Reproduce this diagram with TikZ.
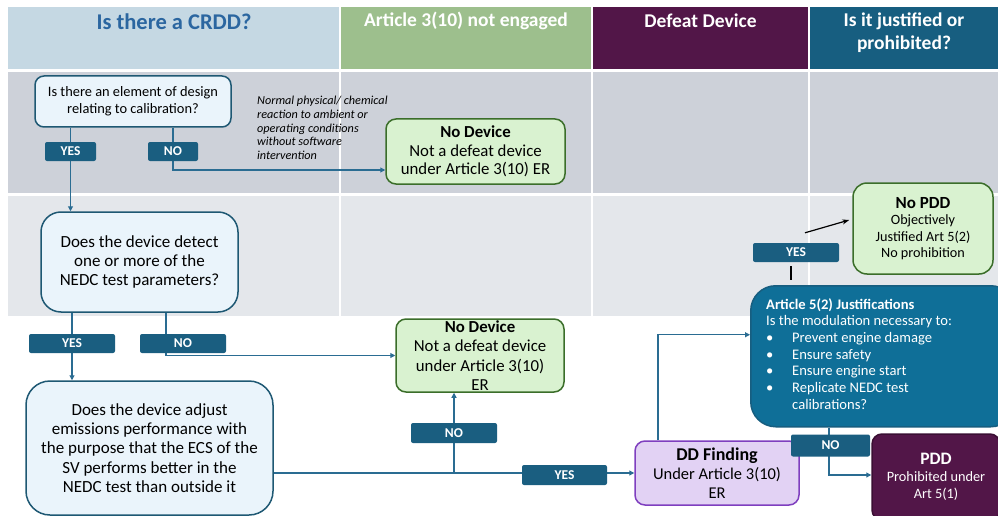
\documentclass[tikz,border=0pt]{standalone}
\usepackage{fontspec}
\setmainfont{Carlito}
\usetikzlibrary{arrows.meta,calc}

\definecolor{hdA}{HTML}{C5D8E3}
\definecolor{hdAtxt}{HTML}{2B66A0}
\definecolor{hdB}{HTML}{9DBF8D}
\definecolor{hdC}{HTML}{521648}
\definecolor{hdD}{HTML}{175E80}
\definecolor{rowA}{HTML}{CDD1D9}
\definecolor{rowB}{HTML}{E4E7EB}
\definecolor{qfill}{HTML}{EAF4FB}
\definecolor{qline}{HTML}{1E5873}
\definecolor{gfill}{HTML}{D9F2D0}
\definecolor{gline}{HTML}{3B6E2A}
\definecolor{pfill}{HTML}{E2D2F4}
\definecolor{pline}{HTML}{7F3FBF}
\definecolor{artfill}{HTML}{0F6F98}
\definecolor{artline}{HTML}{175E80}
\definecolor{lblfill}{HTML}{1A5E80}
\definecolor{connc}{HTML}{2A6C92}
\definecolor{pddline}{HTML}{3A0F33}

\pgfdeclarelayer{bg}
\pgfdeclarelayer{conn}
\pgfsetlayers{bg,conn,main}

\tikzset{
  qbox/.style={draw=qline, fill=qfill, line width=1.5pt, align=center, inner sep=2pt},
  gbox/.style={draw=gline, fill=gfill, line width=1.5pt, align=center, inner sep=2pt, rounded corners=10pt},
  lbl/.style={fill=lblfill, text=white, rounded corners=2pt, inner sep=0pt,
    font=\bfseries\fontsize{13.5}{13.5}\selectfont},
  conn/.style={draw=connc, line width=1.1pt, -{Triangle[length=5pt,width=5pt]}},
  blk/.style={draw=black, line width=1.2pt},
  hdtxt/.style={text=white, font=\bfseries\fontsize{19.5}{23}\selectfont, align=center, inner sep=0pt}
}

\begin{document}
\begin{tikzpicture}[x=1pt,y=-1pt]
\useasboundingbox (0,0) rectangle (998,516);

% lane backgrounds
\begin{pgfonlayer}{bg}
\fill[white] (0,0) rectangle (998,516);
\fill[hdA] (8,7) rectangle (339,69);
\fill[hdB] (341,7) rectangle (591,69);
\fill[hdC] (593,7) rectangle (808,69);
\fill[hdD] (810,7) rectangle (998,69);
\fill[rowA] (8,72) rectangle (998,193);
\fill[rowB] (8,196) rectangle (998,316);
\foreach \xx in {340,592,809}{\draw[white, line width=1.5pt] (\xx,72) -- (\xx,316);}
\end{pgfonlayer}

% column headings
\node[hdtxt, text=hdAtxt, font=\bfseries\fontsize{22.5}{25}\selectfont] (h1) at (174,22) {Is there a CRDD?};
\node[hdtxt] (h2) at (466,21) {Article 3(10) not engaged};
\node[hdtxt] (h3) at (700.5,21) {Defeat Device};
\node[hdtxt] (h4) at (904,32.5) {Is it justified or\\prohibited?};

% decision boxes
\node[qbox, rounded corners=9pt, minimum width=196pt, minimum height=51pt,
  font=\fontsize{14.4}{17}\selectfont] (q1) at (133,101.5)
  {Is there an element of design\\relating to calibration?};
\node[qbox, rounded corners=20pt, minimum width=197pt, minimum height=100pt,
  font=\fontsize{17}{19.4}\selectfont] (q2) at (139.5,262)
  {Does the device detect\\one or more of the\\NEDC test parameters?};
\node[qbox, rounded corners=24pt, minimum width=247pt, minimum height=134pt,
  font=\fontsize{17}{19.4}\selectfont] (q3) at (149.5,448)
  {Does the device adjust\\emissions performance with\\the purpose that the ECS of the\\SV performs better in the\\NEDC test than outside it};

% outcome boxes
\node[gbox, minimum width=179pt, minimum height=65pt,
  font=\fontsize{16.8}{18.5}\selectfont] (nd1) at (475.5,151.5)
  {\textbf{No Device}\\Not a defeat device\\under Article 3(10) ER};
\node[gbox, minimum width=168pt, minimum height=73pt, inner sep=0pt,
  font=\fontsize{16.8}{19.5}\selectfont] (nd2) at (480,355.5)
  {\textbf{No Device}\\Not a defeat device\\under Article 3(10)\\ER};
\node[draw=pline, fill=pfill, line width=1.5pt, rounded corners=10pt, align=center,
  minimum width=164pt, minimum height=64pt, inner sep=0pt,
  font=\fontsize{16.5}{19}\selectfont] (dd) at (717,473)
  {{\fontsize{18}{19}\selectfont\bfseries DD Finding}\\Under Article 3(10)\\ER};
\node[gbox, rounded corners=14pt, minimum width=140pt, minimum height=91pt, inner sep=0pt,
  font=\fontsize{14.2}{16.5}\selectfont] (nopdd) at (923,228.5)
  {{\fontsize{17}{18}\selectfont\bfseries No PDD}\\Objectively\\Justified Art 5(2)\\No prohibition};
\node[draw=pddline, fill=hdC, line width=1.5pt, rounded corners=10pt, text=white, align=center,
  minimum width=128pt, minimum height=86pt, inner sep=0pt,
  font=\fontsize{14.3}{17}\selectfont] (pdd) at (936,477)
  {{\fontsize{17.5}{18}\selectfont\bfseries PDD}\\Prohibited under\\Art 5(1)};

% justification box
\node[draw=artline, fill=artfill, line width=1.5pt, rounded corners=25pt,
  minimum width=265pt, minimum height=141pt, anchor=north west] (art) at (750,285) {};
\node[anchor=north west, inner sep=0pt, text=white, align=left,
  font=\fontsize{14.6}{16.7}\selectfont] (arttxt) at (766,298)
  {\textbf{Article 5(2) Justifications}\\
   Is the modulation necessary to:\\
   \makebox[26pt][l]{\textbullet}Prevent engine damage\\
   \makebox[26pt][l]{\textbullet}Ensure safety\\
   \makebox[26pt][l]{\textbullet}Ensure engine start\\
   \makebox[26pt][l]{\textbullet}Replicate NEDC test\\
   \hspace*{26pt}calibrations?};

% side note
\node[anchor=north west, inner sep=0pt, align=left,
  font=\itshape\fontsize{12.2}{13.7}\selectfont] (note) at (257,96)
  {Normal physical/ chemical\\reaction to ambient or\\operating conditions\\without software\\intervention};

% answer tags
\node[lbl, minimum width=51pt, minimum height=19pt] (yes1) at (70.5,151.5) {YES};
\node[lbl, minimum width=50pt, minimum height=19pt] (no1) at (173,151.5) {NO};
\node[lbl, minimum width=86pt, minimum height=19pt] (yes2) at (72,343.5) {YES};
\node[lbl, minimum width=86pt, minimum height=19pt] (no2) at (183,343.5) {NO};
\node[lbl, minimum width=86pt, minimum height=20pt] (no3) at (454,433) {NO};
\node[lbl, minimum width=85pt, minimum height=20pt] (yes3) at (564.5,475) {YES};
\node[lbl, minimum width=86pt, minimum height=19pt] (yes4) at (796,252.5) {YES};
\node[lbl, minimum width=79pt, minimum height=22pt] (no4) at (830.5,445.5) {NO};

% connectors
\begin{pgfonlayer}{conn}
\draw[conn] (q1.south -| yes1) -- (q2.north -| yes1);
\draw[conn] (q1.south -| no1) |- ([yshift=-18.5pt]nd1.west);
\draw[conn] (q2.south -| yes2) -- (q3.north -| yes2);
\draw[conn] ([xshift=26.5pt]q2.south) |- (nd2.west);
\draw[conn] (q3.east |- dd.west) -- (dd.west);
\draw[conn] (no3 |- dd.west) -- (no3 |- nd2.south);
\draw[conn] ([xshift=-59pt]dd.north) |- ([yshift=21.5pt]art.west);
\draw[conn] ([xshift=-1.5pt]art.south -| no4) |- ([yshift=2pt]pdd.west);
\draw[blk] ([xshift=-5pt,yshift=-4pt]yes4.south) -- ++(0,14);
\draw[blk, -{Stealth[length=7pt,width=5pt]}] ([xshift=9pt,yshift=10pt]yes4.north) -- ([xshift=-3pt,yshift=8.5pt]nopdd.west);
\end{pgfonlayer}
\end{tikzpicture}
\end{document}
